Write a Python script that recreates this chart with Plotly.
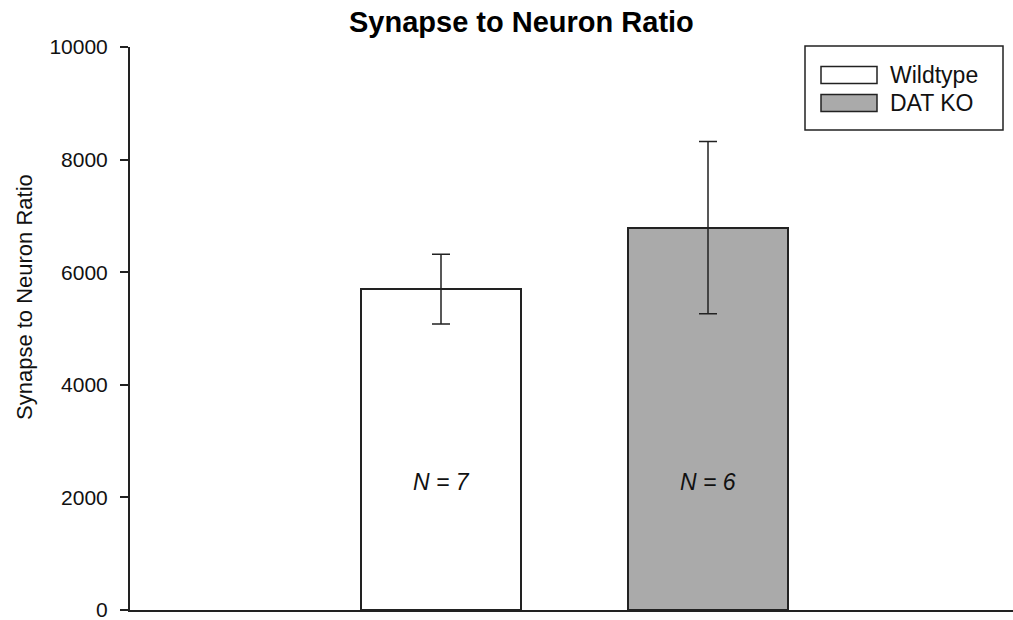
import plotly.graph_objects as go

# data
groups = ["Wildtype", "DAT KO"]
means = [5700, 6790]
errors = [620, 1530]
n_labels = ["N = 7", "N = 6"]
colors = ["#ffffff", "#aaaaaa"]
y_ticks = [0, 2000, 4000, 6000, 8000, 10000]
y_ticktext = ["0", "2000", "4000", "6000", "8000", "10000"]

W, H = 1013, 620
L, R, T, B = 130, 0, 47, 10
pw, ph = W - L - R, H - T - B
FONT = "Arial, Liberation Sans, sans-serif"

def px(x):
    return (x - L) / pw

def py(y):
    return (H - B - y) / ph

fig = go.Figure()
xs = list(range(len(groups)))
for i, g in enumerate(groups):
    fig.add_trace(go.Bar(
        x=[xs[i]], y=[means[i]], width=0.6, name=g,
        marker=dict(color=colors[i], line=dict(color="#222222", width=2)),
        error_y=dict(type="data", array=[errors[i]], visible=True,
                     color="#222222", thickness=1.5, width=9),
        showlegend=False,
    ))

annotations = []
for i, t in enumerate(n_labels):
    annotations.append(dict(x=xs[i], y=2270, xref="x", yref="y", text=f"<i>{t}</i>",
                            showarrow=False, xanchor="center", yanchor="middle",
                            font=dict(family=FONT, size=23, color="#111")))

# title
annotations.append(dict(x=px(521), y=py(22), xref="paper", yref="paper",
                        text="<b>Synapse to Neuron Ratio</b>", showarrow=False,
                        xanchor="center", yanchor="middle",
                        font=dict(family=FONT, size=29, color="#000")))
# y axis title
annotations.append(dict(x=px(24), y=py(297), xref="paper", yref="paper",
                        text="Synapse to Neuron Ratio", showarrow=False, textangle=-90,
                        xanchor="center", yanchor="middle",
                        font=dict(family=FONT, size=22, color="#111")))

# legend drawn manually
shapes = [
    dict(type="rect", xref="paper", yref="paper", x0=px(805), x1=px(1003), y0=py(130), y1=py(46),
         line=dict(color="#222", width=1.5), fillcolor="white"),
]
leg_rows = [(66.5, 83.5), (94.5, 111.5)]
for i, g in enumerate(groups):
    y0, y1 = leg_rows[i]
    shapes.append(dict(type="rect", xref="paper", yref="paper", x0=px(821), x1=px(877),
                       y0=py(y1), y1=py(y0), line=dict(color="#222", width=1.5), fillcolor=colors[i]))
    annotations.append(dict(x=px(888), y=py((y0 + y1) / 2), xref="paper", yref="paper",
                            text=g, showarrow=False, xanchor="left", yanchor="middle",
                            font=dict(family=FONT, size=23, color="#111")))

fig.update_layout(
    width=W, height=H,
    margin=dict(l=L, r=R, t=T, b=B),
    paper_bgcolor="white", plot_bgcolor="white",
    xaxis=dict(range=[(L - 441) / 267, (W - 441) / 267], showticklabels=False, ticks="",
               showgrid=False, zeroline=False, showline=True, linecolor="#222", linewidth=2),
    yaxis=dict(range=[0, 10000], tickvals=y_ticks, ticktext=y_ticktext, ticks="outside",
               ticklen=8, tickwidth=1.5, tickcolor="#222", showgrid=False, zeroline=False,
               showline=True, linecolor="#222", linewidth=2, ticklabelstandoff=8,
               ticklabeloverflow="allow",
               tickfont=dict(family=FONT, size=21, color="#111")),
    annotations=annotations, shapes=shapes,
    bargap=0,
)
fig.write_html("out.html")
